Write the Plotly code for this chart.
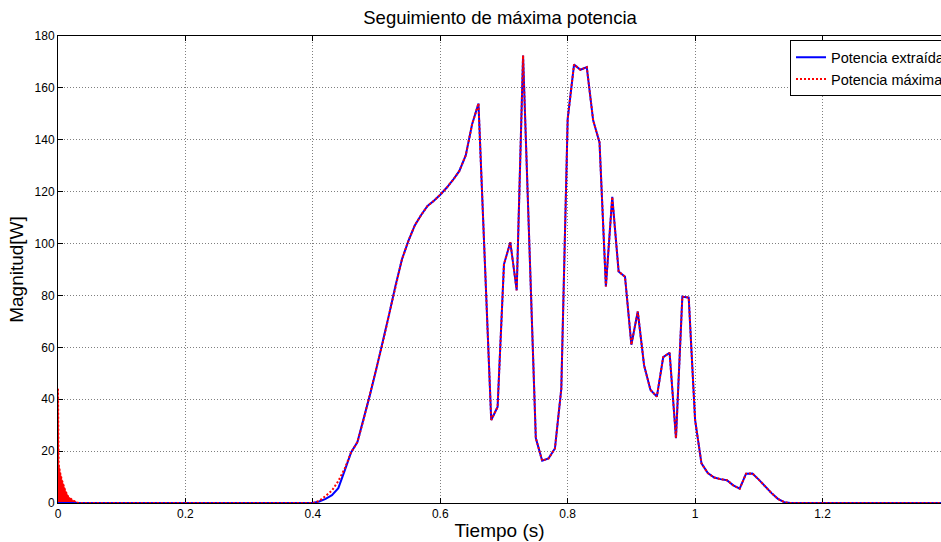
import plotly.graph_objects as go

# Sample times (s) and power (W) for the tracked power during the run
t_track = [0.00, 0.40, 0.41, 0.42, 0.43, 0.44, 0.45,
           0.46, 0.47, 0.48, 0.49, 0.50, 0.51, 0.52, 0.53, 0.54, 0.55,
           0.56, 0.57, 0.58, 0.59, 0.60, 0.61, 0.62, 0.63, 0.64, 0.65,
           0.66, 0.67, 0.68, 0.69, 0.70, 0.71, 0.72, 0.73, 0.74, 0.75,
           0.76, 0.77, 0.78, 0.79, 0.80, 0.81, 0.82, 0.83, 0.84, 0.85,
           0.86, 0.87, 0.88, 0.89, 0.90, 0.91, 0.92, 0.93, 0.94, 0.95,
           0.96, 0.97, 0.98, 0.99, 1.00, 1.01, 1.02, 1.03, 1.04, 1.05,
           1.06, 1.07, 1.08, 1.09, 1.10, 1.11, 1.12, 1.13, 1.14, 1.15, 1.40]

p_extraida = [0, 0, 0.6, 1.6, 3.0, 5.7, 12.5,
              19.5, 23.5, 32.5, 42, 52, 62, 73, 84, 94, 101,
              107, 111, 114.5, 116.5, 118.8, 121.5, 124.5, 128, 134, 146,
              154, 93, 32, 37, 92, 100.5, 82, 172.5, 98, 25,
              16.3, 17.2, 21, 44, 148, 169, 167, 168, 147.5, 139,
              83.5, 118, 89.2, 87.2, 61, 73.8, 53, 43.6, 41, 56.2,
              57.9, 25, 79.5, 79.2, 32, 15.3, 11.5, 9.8, 9.2, 8.8,
              6.8, 5.5, 11.3, 11.4, 9.0, 6.3, 3.8, 1.6, 0.3, 0, 0]

# Maximum available power: start-up transient, then the same profile
t_arranque = [0.0, 0.0003, 0.001, 0.003, 0.006, 0.011, 0.016, 0.024, 0.032]
p_arranque = [44, 20, 15, 12, 8.9, 5.0, 2.4, 0.9, 0]

p_maxima_subida = [0, 0.8, 2.7, 4.8, 8.5, 13.2]   # t = 0.40 ... 0.45

t_maxima = t_arranque + t_track[1:]
p_maxima = p_arranque + p_maxima_subida + p_extraida[7:]

x_ticks = [0, 0.2, 0.4, 0.6, 0.8, 1.0, 1.2]
x_ticktext = ["0", "0.2", "0.4", "0.6", "0.8", "1", "1.2"]
y_ticks = [0, 20, 40, 60, 80, 100, 120, 140, 160, 180]

FONT = "Liberation Sans, Arial, Helvetica, sans-serif"

fig = go.Figure()

# start-up transient drawn as a solid red area
fig.add_trace(go.Scatter(
    x=t_arranque, y=p_arranque, mode="lines",
    line=dict(color="rgb(255,0,0)", width=1),
    fill="tozeroy", fillcolor="rgb(255,0,0)",
    showlegend=False, hoverinfo="skip"))

fig.add_trace(go.Scatter(
    x=t_track, y=p_extraida, mode="lines", name="Potencia extraída",
    line=dict(color="rgb(0,0,255)", width=2)))

fig.add_trace(go.Scatter(
    x=t_maxima, y=p_maxima, mode="lines", name="Potencia máxima",
    line=dict(color="rgb(255,0,0)", width=2, dash="2px,2px")))

axis_common = dict(
    showline=True, linecolor="black", linewidth=1,
    ticks="inside", ticklen=5, tickcolor="black", tickwidth=1,
    showgrid=True, gridcolor="rgba(0,0,0,0.5)", griddash="1px,2px", gridwidth=1,
    zeroline=False, tickfont=dict(size=12, family=FONT, color="black"),
    layer="below traces",
)

fig.update_xaxes(
    range=[0, 1.386], tickvals=x_ticks, ticktext=x_ticktext,
    mirror="ticks",
    title=dict(text="Tiempo (s)", font=dict(size=19, family=FONT), standoff=3),
    **axis_common)

fig.update_yaxes(
    range=[0, 180], tickvals=y_ticks,
    title=dict(text="Magnitud[W]", font=dict(size=19, family=FONT), standoff=5),
    **axis_common)

fig.update_layout(
    width=941, height=542,
    margin=dict(l=58, r=0, t=36, b=39, autoexpand=False),
    paper_bgcolor="white", plot_bgcolor="white",
    font=dict(family=FONT, color="black"),
    title=dict(text="Seguimiento de máxima potencia", x=0.5006, xref="paper",
               y=1 - 18 / 542, yanchor="middle",
               font=dict(size=18.5, family=FONT)),
    legend=dict(x=0.829, y=0.991, xanchor="left", yanchor="top",
                bordercolor="black", borderwidth=1, bgcolor="white",
                font=dict(size=14.5, family=FONT), itemwidth=30,
                tracegroupgap=0),
)

fig.write_html("out.html")
